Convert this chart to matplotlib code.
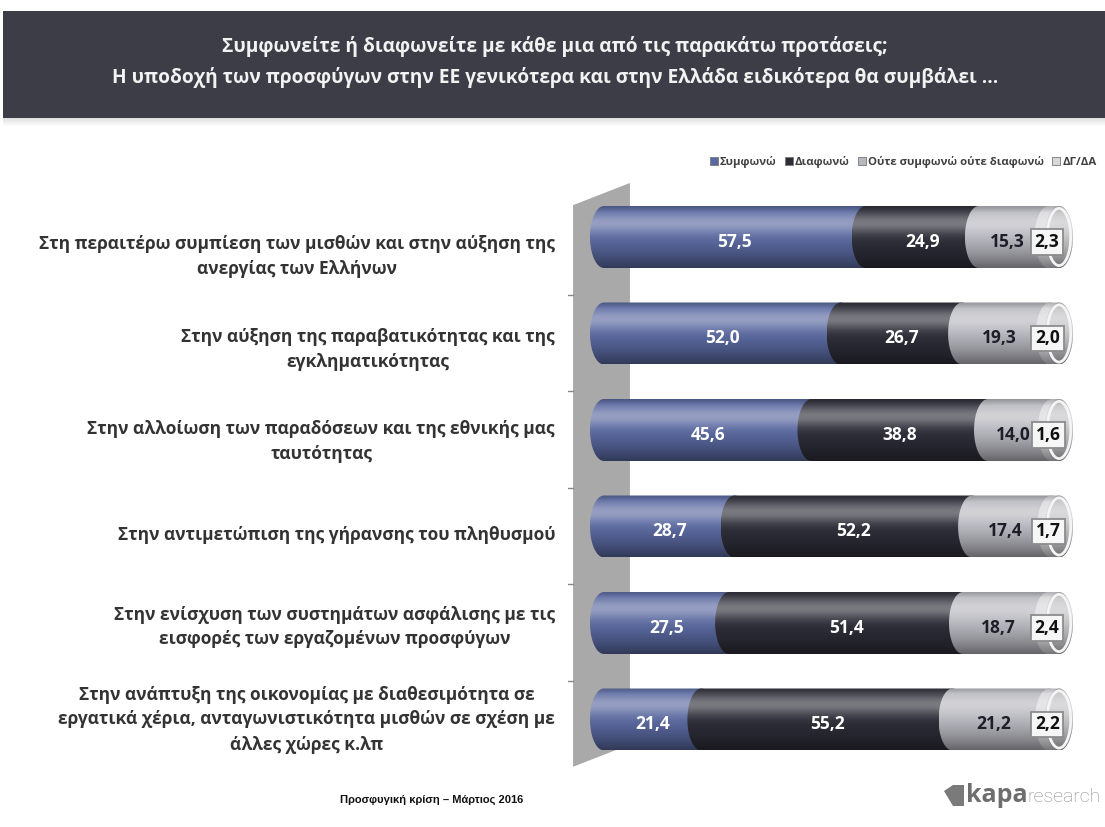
import numpy as np
import matplotlib.pyplot as plt
from matplotlib.patches import Polygon, Ellipse, Rectangle, Patch
from matplotlib.colors import to_rgb

# survey answers, percent per statement
categories = [
    "Στη περαιτέρω συμπίεση των μισθών και στην αύξηση της\nανεργίας των Ελλήνων",
    "Στην αύξηση της παραβατικότητας και της\nεγκληματικότητας",
    "Στην αλλοίωση των παραδόσεων και της εθνικής μας\nταυτότητας",
    "Στην αντιμετώπιση της γήρανσης του πληθυσμού",
    "Στην ενίσχυση των συστημάτων ασφάλισης με τις\nεισφορές των εργαζομένων προσφύγων",
    "Στην ανάπτυξη της οικονομίας με διαθεσιμότητα σε\nεργατικά χέρια, ανταγωνιστικότητα μισθών σε σχέση με\nάλλες χώρες κ.λπ",
]
agree = [57.5, 52.0, 45.6, 28.7, 27.5, 21.4]
disagree = [24.9, 26.7, 38.8, 52.2, 51.4, 55.2]
neither = [15.3, 19.3, 14.0, 17.4, 18.7, 21.2]
dkna = [2.3, 2.0, 1.6, 1.7, 2.4, 2.2]
legend_labels = ["Συμφωνώ", "Διαφωνώ", "Ούτε συμφωνώ ούτε διαφωνώ", "ΔΓ/ΔΑ"]

title = ("Συμφωνείτε ή διαφωνείτε με κάθε μια από τις παρακάτω προτάσεις;\n"
         "Η υποδοχή των προσφύγων στην ΕΕ γενικότερα και στην Ελλάδα ειδικότερα θα συμβάλει ...")
footer = "Προσφυγική κρίση – Μάρτιος 2016"

seg_colors = ["#5a69a0", "#2e2e39", "#b7b7bf", "#d8d8dc"]
FONT = ["Open Sans", "DejaVu Sans"]

W, H = 1105, 827
fig = plt.figure(figsize=(W / 100, H / 100), dpi=100)
fig.patch.set_facecolor("white")

# page furniture in pixel coordinates
deco = fig.add_axes([0, 0, 1, 1])
deco.set_xlim(0, W)
deco.set_ylim(H, 0)
deco.axis("off")
deco.add_patch(Rectangle((3, 11), W - 3, 107, fc="#3d3d47", ec="none"))
for k in range(8):
    deco.add_patch(Rectangle((3, 118 + k), W - 3, 1, fc="#000000",
                             alpha=0.12 * (1 - k / 8), ec="none"))
deco.text(555, 62, title, ha="center", va="center", color="#f2f2f2",
          fontsize=13.8, fontweight="bold", family=FONT, linespacing=1.6)
deco.text(432, 800, footer, ha="center", va="center", color="#111111",
          fontsize=8, fontweight="bold", family=["Liberation Sans", "DejaVu Sans"])
deco.add_patch(Polygon([[944, 791], [953, 785], [964, 785], [964, 806], [953, 806]],
                       closed=True, fc="#7a7a7a", ec="none"))
t1 = deco.text(966, 796, "kapa", ha="left", va="center", color="#6e6e6e",
               fontsize=18, fontweight="bold", family=FONT)
deco.annotate("research", xy=(1, 0.47), xycoords=t1, ha="left", va="center",
              color="#8c8c8c", fontsize=14, fontweight="light", family=["Roboto", "Lato"])

# bar area: x in percent, y in row index
px_pct = 4.55
x0_px = 604
xlo, xhi = -8, 104
y_top, y_bot = -0.65, 5.6
row0_px, row_px = 237, 96.5
left_px = x0_px + xlo * px_pct
top_px = row0_px + y_top * row_px
bot_px = row0_px + y_bot * row_px
ax = fig.add_axes([left_px / W, 1 - bot_px / H, (xhi - xlo) * px_pct / W, (bot_px - top_px) / H])
ax.axis("off")

h = 31 / row_px
e = 14 / px_pct
label_y = [(257 + 92.5 * k - row0_px) / row_px for k in range(len(categories))]


def shade(color, n=64):
    base = np.array(to_rgb(color))
    t = np.linspace(0, 1, n)[:, None]
    white = 0.36 * np.exp(-((t - 0.27) / 0.17) ** 2)
    black = 0.5 * np.clip(t - 0.45, 0, None) ** 1.5 * 2.2 + 0.2 * np.clip(0.1 - t, 0, None) / 0.1
    col = base * (1 - white) + white
    col = col * (1 - np.clip(black, 0, 0.8))
    return np.clip(col, 0, 1)[:, None, :]


def outline(a, b, c, n=40):
    th = np.linspace(-np.pi / 2, np.pi / 2, n)
    left = np.column_stack([a - e * np.cos(th), c + h * np.sin(th)])
    right = np.column_stack([b + e * np.cos(th[::-1]), c + h * np.sin(th[::-1])])
    return np.vstack([left, right])


# grey back wall
ax.add_patch(Polygon([[-6.8, -0.33], [5.7, -0.56], [5.7, 5.26], [-6.8, 5.49]],
                     closed=True, fc="#a9a9a9", ec="none", zorder=0))
for k in range(5):
    ty = k + 0.6
    ax.plot([-8, -6.8], [ty, ty], color="#888888", lw=1, zorder=0)

fmt = lambda v: f"{v:.1f}".replace(".", ",")

for i, row in enumerate(zip(agree, disagree, neither, dkna)):
    start = 0.0
    for j, v in enumerate(row):
        a, b = start, start + v
        poly = Polygon(outline(a, b, i), closed=True, fc="none", ec="none", zorder=2 + j)
        ax.add_patch(poly)
        im = ax.imshow(shade(seg_colors[j]), extent=(a - e, b + e, i + h, i - h),
                       aspect="auto", interpolation="bilinear", zorder=2 + j)
        im.set_clip_path(poly)
        start = b
    # end face of the cylinder
    cap = Ellipse((100, i), 2 * e, 2 * h, fc="none", ec="none", zorder=7)
    ax.add_patch(cap)
    cim = ax.imshow(shade("#c4c4c8") * np.ones((1, 8, 1)),
                    extent=(100 - e, 100 + e, i + h, i - h), aspect="auto",
                    interpolation="bilinear", zorder=7)
    cim.set_clip_path(cap)
    ax.add_patch(Ellipse((100, i), 2 * e - 1.0, 2 * h - 0.05, fc="none",
                         ec="#f4f4f4", lw=2, zorder=8))

    a1, a2, a3 = row[0], row[0] + row[1], row[0] + row[1] + row[2]
    ty = i + 0.05
    ax.text(a1 / 2, ty, fmt(row[0]), ha="center", va="center", color="white",
            fontsize=12.5, fontweight="bold", family=FONT, zorder=10)
    ax.text((a1 + a2) / 2, ty, fmt(row[1]), ha="center", va="center", color="white",
            fontsize=12.5, fontweight="bold", family=FONT, zorder=10)
    ax.text((a2 + a3) / 2 - 1.5, ty, fmt(row[2]), ha="center", va="center", color="#1e1e28",
            fontsize=12.5, fontweight="bold", family=FONT, zorder=10)
    ax.text((a3 + 100) / 2 - 1.5, ty, fmt(row[3]), ha="center", va="center", color="#111111",
            fontsize=12.5, fontweight="bold", family=FONT, zorder=11,
            bbox=dict(boxstyle="square,pad=0.22", fc="#f6f6f6", ec="#8c8c8c", lw=1.3))

    ax.text((555 - x0_px) / px_pct, label_y[i], categories[i], ha="right", va="center",
            multialignment="center", color="#333333", fontsize=12.5, fontweight="bold",
            family=FONT, linespacing=1.5, clip_on=False)

ax.set_xlim(xlo, xhi)
ax.set_ylim(y_bot, y_top)

handles = [Patch(fc=c, ec="#777777", lw=0.6) for c in seg_colors]
fig.legend(handles, legend_labels, loc="upper right", bbox_to_anchor=(1101 / W, 1 - 151 / H),
           ncol=4, frameon=False, handlelength=0.7, handleheight=0.7,
           handletextpad=0.2, columnspacing=0.7, borderaxespad=0,
           prop={"family": FONT, "weight": "bold", "size": 8.2}, labelcolor="#404040")

fig.savefig("out.png", dpi=100, facecolor="white")
